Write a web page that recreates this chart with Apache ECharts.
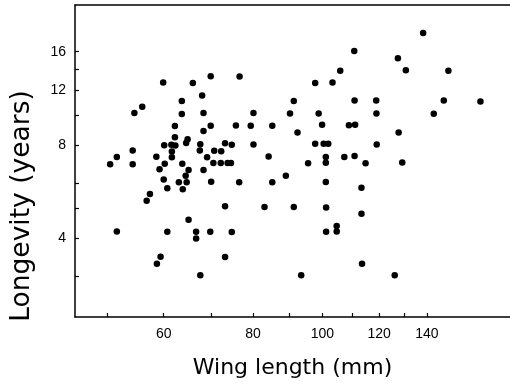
<!DOCTYPE html>
<html><head><meta charset="utf-8">
<script src="https://cdn.jsdelivr.net/npm/echarts@6/dist/echarts.min.js"></script>
<style>html,body{margin:0;padding:0;background:#fff}#c{width:510px;height:384px}</style>
</head><body><div id="c"></div>
<script>
const wingLength = [50.5,51.6,51.6,54.3,54.3,54.6,56.0,56.8,57.4,58.6,
58.7,59.4,59.2,59.9,60.1,60.2,60.0,60.7,60.7,61.5,
62.3,61.6,61.6,62.2,62.2,63.6,63.6,63.7,63.0,63.8,
64.8,64.5,65.0,64.4,64.6,65.0,65.9,66.6,66.6,67.5,
67.9,68.2,68.2,67.5,67.4,68.2,69.0,69.8,69.8,69.9,
69.7,70.4,70.6,72.1,72.2,73.1,73.7,74.5,74.7,73.1,
73.1,74.7,75.7,76.6,76.5,80.1,79.4,80.1,83.0,84.1,
85.1,85.1,88.9,90.1,91.2,92.3,91.2,93.4,95.5,97.7,
97.7,98.8,99.9,100.4,101.9,101.1,101.1,101.1,101.2,101.2,
103.3,104.7,104.7,105.9,107.3,108.9,111.1,110.8,110.9,110.9,
113.4,113.4,113.6,114.9,118.9,119.0,119.1,126.2,127.5,127.8,
129.3,130.8,138.3,143.1,147.8,150.0,166.3];
const longevity = [6.92,7.30,4.20,7.67,6.92,10.13,10.61,5.28,5.55,7.32,
3.30,3.48,6.67,12.71,7.98,6.95,6.18,5.79,4.19,8.00,
7.96,7.61,7.29,9.20,8.46,11.09,10.06,6.95,6.05,5.75,
8.33,8.10,6.63,6.35,6.05,4.58,12.68,4.19,3.98,3.03,
11.54,10.13,8.86,8.03,7.67,6.63,7.29,13.33,9.21,6.08,
4.19,6.98,7.66,6.98,7.62,8.09,6.98,6.98,8.00,5.06,
3.47,4.18,9.23,13.29,6.05,10.13,9.21,8.02,5.04,7.33,
9.21,6.05,6.35,10.09,11.09,8.77,5.04,3.03,6.97,12.68,
8.06,10.09,9.28,8.06,8.06,7.30,7.00,6.06,5.02,4.19,
12.71,4.37,4.20,13.89,7.30,9.25,9.28,16.08,11.12,7.36,
5.81,4.79,3.30,6.97,11.12,10.09,8.02,3.03,15.24,8.77,
7.01,13.93,18.39,10.07,11.12,13.89,11.04];
const xTicks = [50,60,70,80,90,100,110,120,130,140];
const xLabels = [60,80,100,120,140];
const yTicks = [3,4,5,6,8,10,12,14,16];
const yLabels = [4,8,12,16];
const xTitle = 'Wing length (mm)';
const yTitle = 'Longevity (years)';

const chart = echarts.init(document.getElementById('c'), null, {renderer:'canvas'});
const points = wingLength.map((w,i)=>[w, longevity[i]]);
const axisLine = {show:true, lineStyle:{color:'#000', width:1.5}};
chart.setOption({
  animation:false,
  backgroundColor:'#fff',
  grid:{left:75, top:5, right:-10, bottom:66.5, containLabel:false},
  xAxis:[{
    type:'log', min:45.1, max:182.9, position:'bottom',
    axisLine:axisLine,
    axisTick:{show:true, inside:true, length:4, customValues:xTicks, lineStyle:{color:'#000', width:1.2}},
    axisLabel:{show:true, customValues:xLabels, margin:10, color:'#000', fontSize:14, fontFamily:'Liberation Sans'},
    splitLine:{show:false}, minorTick:{show:false},
    name:xTitle, nameLocation:'middle', nameGap:40,
    nameTextStyle:{fontSize:22, fontFamily:'DejaVu Sans', color:'#000'}
  },{
    type:'log', min:45.1, max:182.9, position:'top',
    axisLine:axisLine, axisTick:{show:false}, axisLabel:{show:false}, splitLine:{show:false}
  }],
  yAxis:{
    type:'log', min:2.221, max:22.64,
    axisLine:axisLine,
    axisTick:{show:true, inside:true, length:4, customValues:yTicks, lineStyle:{color:'#000', width:1.2}},
    axisLabel:{show:true, customValues:yLabels, margin:9, color:'#000', fontSize:14, fontFamily:'Liberation Sans'},
    splitLine:{show:false}
  },
  graphic:[{
    type:'text', x:22, y:206, rotation:Math.PI/2,
    style:{text:yTitle, fontSize:26.5, fontFamily:'DejaVu Sans', fill:'#000', align:'center', verticalAlign:'middle'}
  }],
  series:[{
    type:'scatter', xAxisIndex:0, data:points, symbol:'circle', symbolSize:6.5,
    itemStyle:{color:'#000', opacity:1}
  }]
});
</script></body></html>
